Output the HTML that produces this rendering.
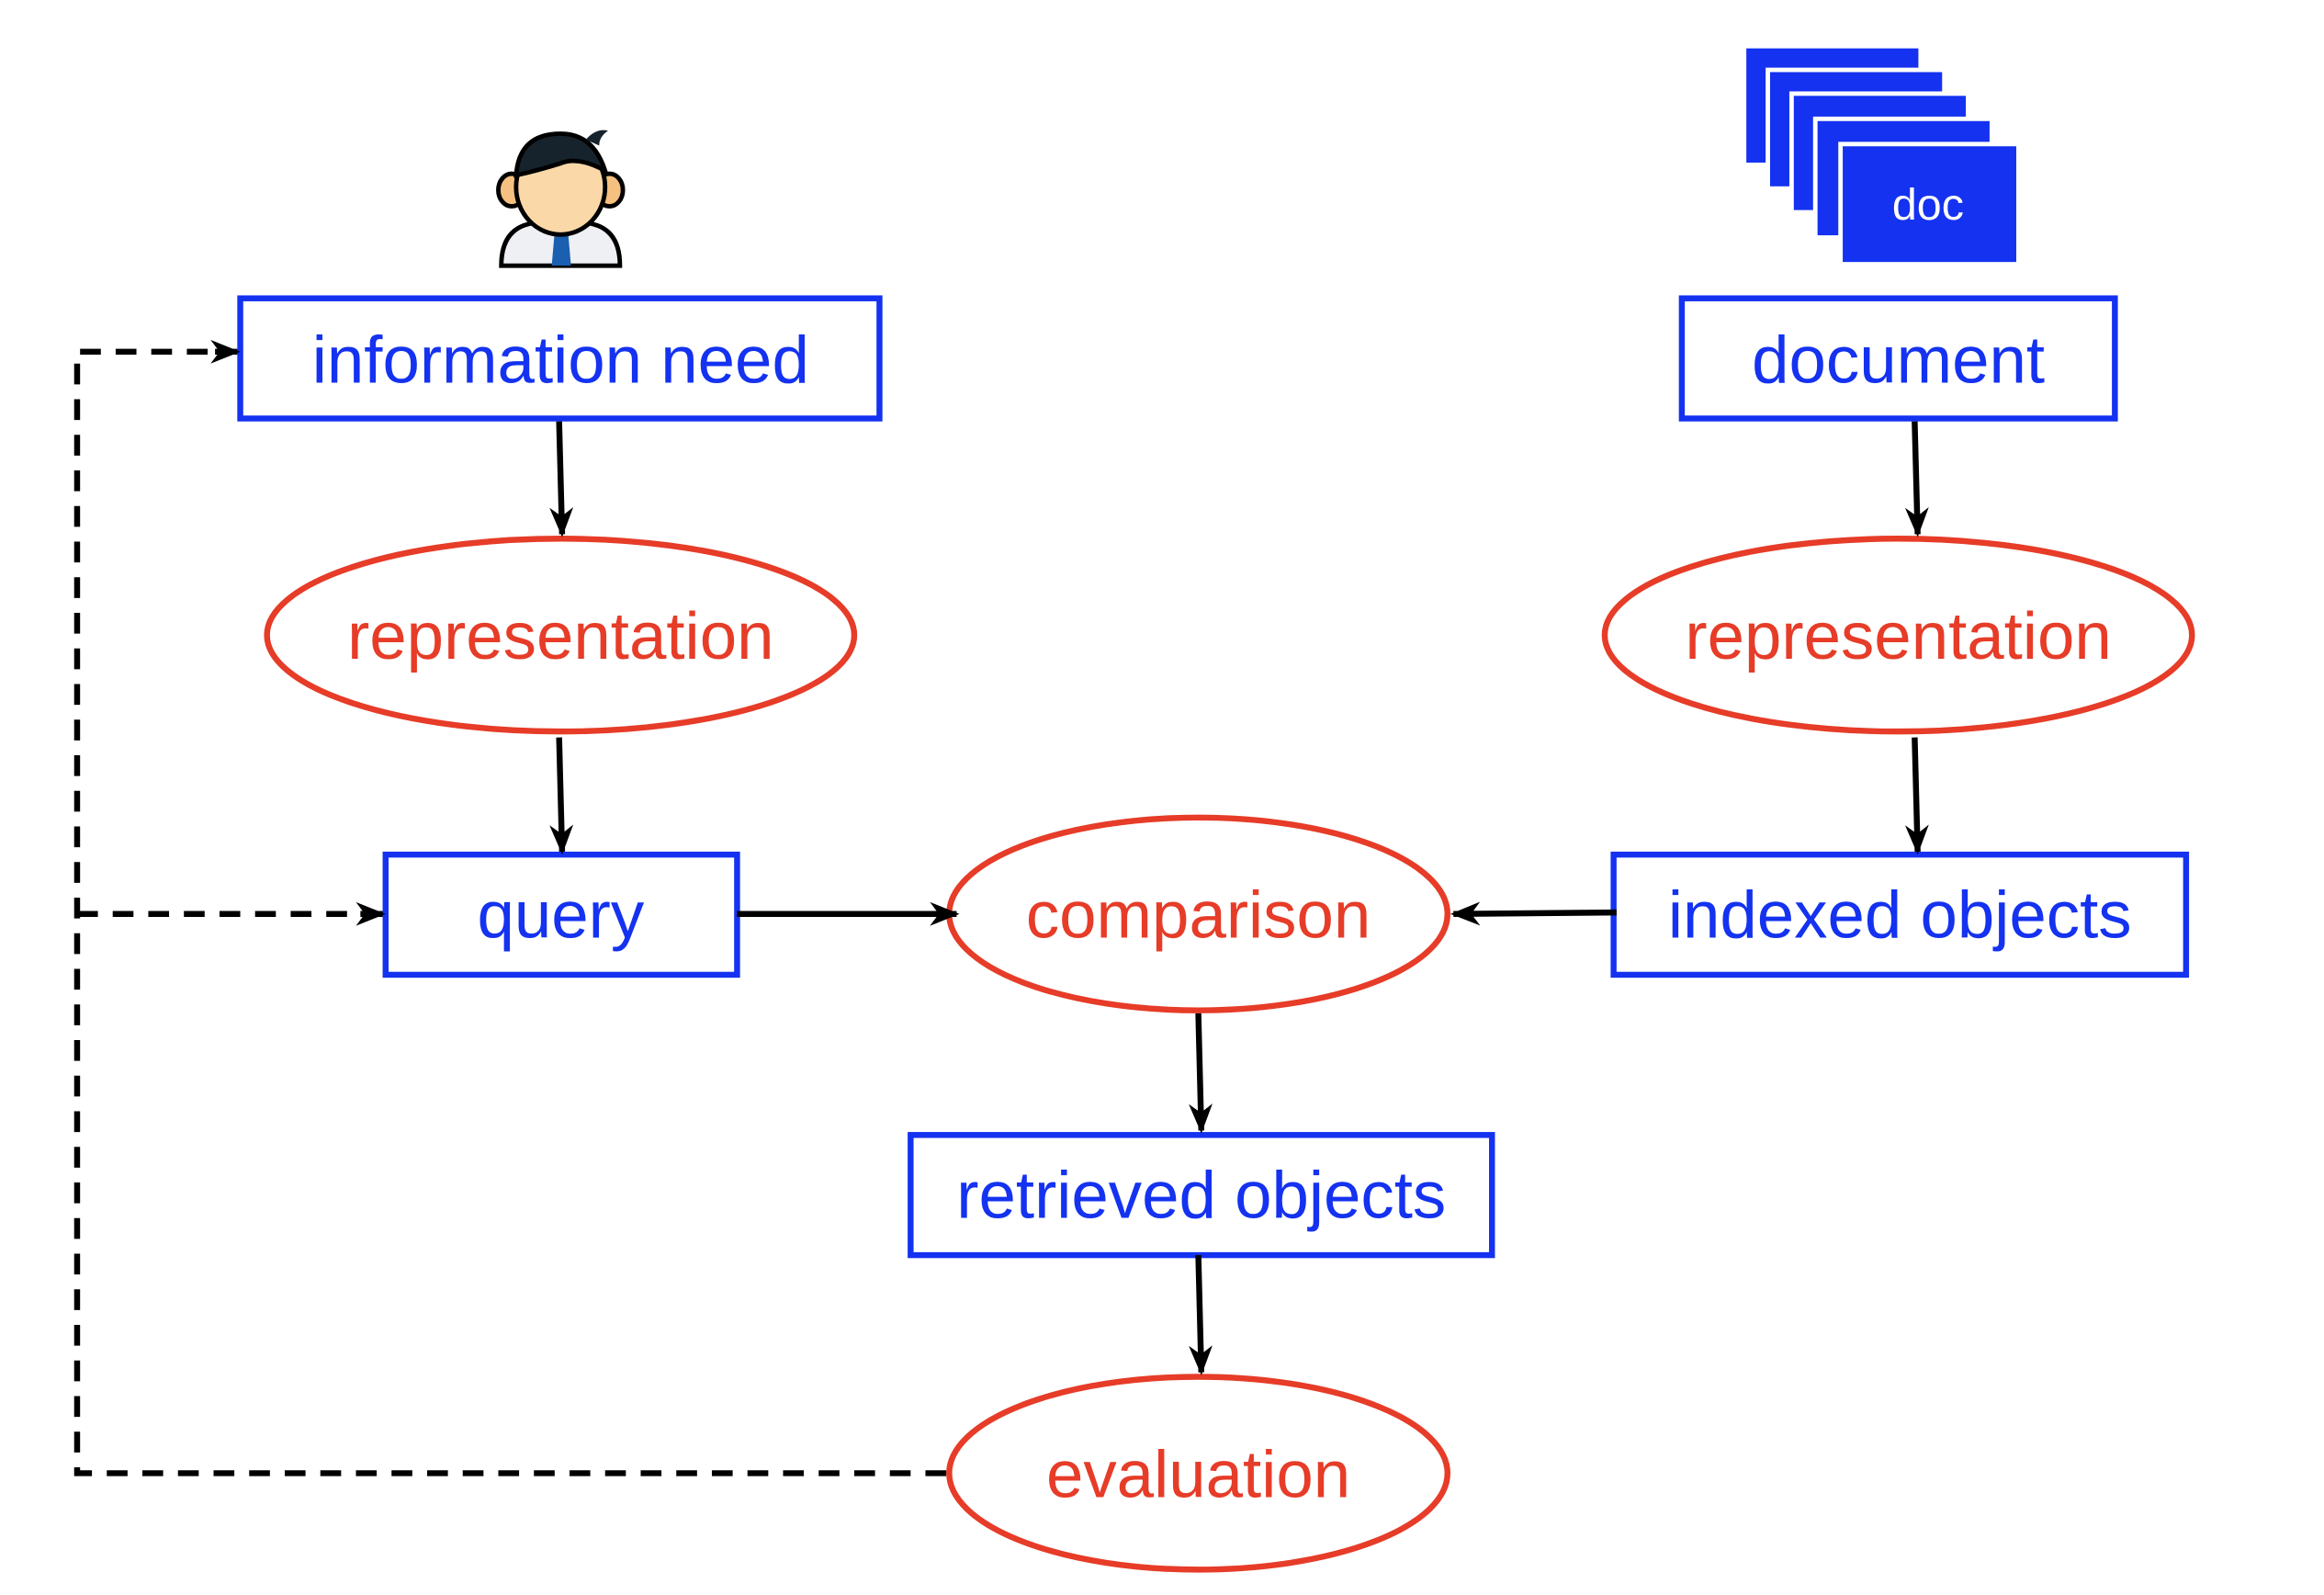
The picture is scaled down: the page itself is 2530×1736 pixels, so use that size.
<!DOCTYPE html>
<html><head><style>html,body{margin:0;padding:0;background:#fff;}svg{display:block}</style></head>
<body>
<svg width="2530" height="1736" viewBox="0 0 1567 1075" xmlns="http://www.w3.org/2000/svg" font-family="Liberation Sans, sans-serif">
<defs>
<marker id="b" markerWidth="20" markerHeight="20" refX="18" refY="10" orient="auto" markerUnits="userSpaceOnUse" viewBox="0 0 20 20">
<path d="M0,2 L20,10 L0,18 L6,10 z" fill="#000"/></marker>
</defs>
<!-- person -->
<g>
<path d="M338,179 Q338,152 362,150 L394,150 Q418,152 418,179 Z" fill="#eef0f4" stroke="#000" stroke-width="3"/>
<path d="M374,156 L383,156 L385,179 L372,179 Z" fill="#1a5fb0"/>
<ellipse cx="345" cy="128" rx="9" ry="11" fill="#f5c080" stroke="#000" stroke-width="3"/>
<ellipse cx="411" cy="128" rx="9" ry="11" fill="#f5c080" stroke="#000" stroke-width="3"/>
<ellipse cx="378" cy="126" rx="30" ry="32" fill="#fad8a8" stroke="#000" stroke-width="3"/>
<path d="M348,118 Q350,90 378,90 Q400,90 408,115 Q390,105 378,110 Q362,115 348,118 Z" fill="#17232c" stroke="#000" stroke-width="3"/>
<path d="M395,94 Q402,86 410,88 Q404,92 404,98 Z" fill="#17232c"/>
</g>
<!-- doc stack -->
<g fill="#1432f0" stroke="#fff" stroke-width="3">
<rect x="1176" y="31" width="119" height="80"/>
<rect x="1192" y="47" width="119" height="80"/>
<rect x="1208" y="63" width="119" height="80"/>
<rect x="1224" y="80" width="119" height="80"/>
<rect x="1241" y="97" width="120" height="81"/>
</g>
<text x="1300" y="148" font-size="30" fill="#fff" text-anchor="middle">doc</text>
<g fill="none" stroke="#1432f0" stroke-width="4">
<rect x="162" y="201" width="431" height="81"/>
<rect x="1134" y="201" width="292" height="81"/>
<rect x="260" y="576" width="237" height="81"/>
<rect x="1088" y="576" width="386" height="81"/>
<rect x="614" y="765" width="392" height="81"/>
</g>
<g fill="none" stroke="#e63c28" stroke-width="4">
<ellipse cx="378" cy="428" rx="198" ry="65"/>
<ellipse cx="1280" cy="428" rx="198" ry="65"/>
<ellipse cx="808" cy="616" rx="168" ry="65"/>
<ellipse cx="808" cy="993" rx="168" ry="65"/>
</g>
<g font-size="45" text-anchor="middle">
<text x="378" y="258" fill="#1432f0">information need</text>
<text x="1280" y="258" fill="#1432f0">document</text>
<text x="378" y="632" fill="#1432f0">query</text>
<text x="1281" y="632" fill="#1432f0">indexed objects</text>
<text x="810" y="821" fill="#1432f0">retrieved objects</text>
<text x="378" y="444" fill="#e63c28">representation</text>
<text x="1280" y="444" fill="#e63c28">representation</text>
<text x="808" y="632" fill="#e63c28">comparison</text>
<text x="808" y="1009" fill="#e63c28">evaluation</text>
</g>
<g stroke="#000" stroke-width="4" fill="none" marker-end="url(#b)">
<line x1="377" y1="284" x2="379" y2="360"/>
<line x1="377" y1="497" x2="379" y2="574"/>
<line x1="1291" y1="284" x2="1293" y2="360"/>
<line x1="1291" y1="497" x2="1293" y2="574"/>
<line x1="497" y1="616" x2="645" y2="616"/>
<line x1="1090" y1="615" x2="980" y2="616"/>
<line x1="808" y1="683" x2="810" y2="762"/>
<line x1="808" y1="846" x2="810" y2="925"/>
</g>
<g stroke="#000" stroke-width="4" fill="none" stroke-dasharray="14,10">
<path d="M638,993 L52,993 L52,237 L150,237"/>
<path d="M52,616 L248,616"/>
</g>
<g stroke="#000" stroke-width="4" fill="none" marker-end="url(#b)">
<line x1="145" y1="237" x2="160" y2="237"/>
<line x1="243" y1="616" x2="258" y2="616"/>
</g>
</svg>
</body></html>
